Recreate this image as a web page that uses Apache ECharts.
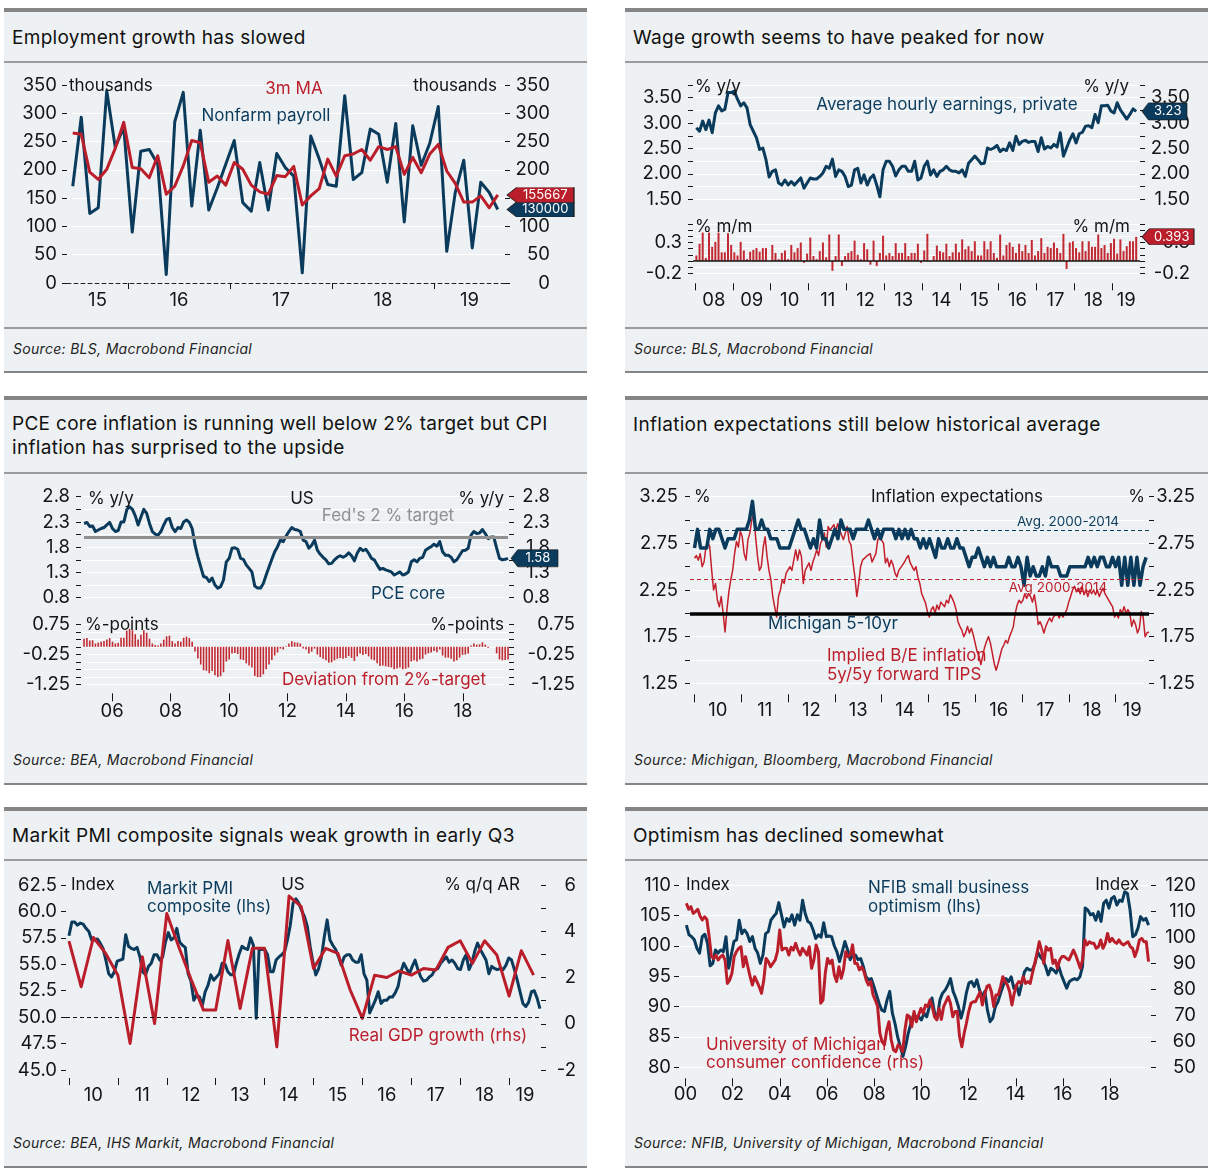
<!DOCTYPE html>
<html><head><meta charset="utf-8">
<script src="https://cdn.jsdelivr.net/npm/echarts@6.0.0/dist/echarts.min.js"></script>
<style>
body{margin:0;background:#fff;font-family:Inter,"Noto Sans",sans-serif;}
#wrap{position:relative;width:1218px;height:1176px;overflow:hidden;background:#fff;}
.panel{position:absolute;box-sizing:border-box;background:#eef1f3;border-top:4px solid #858585;border-bottom:2px solid #858585;width:583px;}
.sep{position:absolute;height:2px;background:#9c9c9c;width:583px;}
.title{position:absolute;font-size:19px;letter-spacing:0.3px;color:#111;line-height:24px;white-space:nowrap;}
.src{position:absolute;font-size:14px;letter-spacing:0.3px;font-style:italic;color:#222;line-height:18px;white-space:nowrap;}
#chart{position:absolute;left:0;top:0;width:1218px;height:1176px;}
</style></head>
<body><div id="wrap">
<div class="panel" style="left:4px;top:8px;height:365px"></div>
<div class="panel" style="left:625px;top:8px;height:365px"></div>
<div class="panel" style="left:4px;top:396px;height:389px"></div>
<div class="panel" style="left:625px;top:396px;height:389px"></div>
<div class="panel" style="left:4px;top:807px;height:361px"></div>
<div class="panel" style="left:625px;top:807px;height:361px"></div>
<div class="sep" style="left:4px;top:61px"></div>
<div class="sep" style="left:625px;top:61px"></div>
<div class="sep" style="left:4px;top:327px"></div>
<div class="sep" style="left:625px;top:327px"></div>
<div class="sep" style="left:4px;top:472px"></div>
<div class="sep" style="left:625px;top:472px"></div>
<div class="sep" style="left:4px;top:859px"></div>
<div class="sep" style="left:625px;top:859px"></div>
<div class="title" style="left:12px;top:26px">Employment growth has slowed</div>
<div class="title" style="left:633px;top:26px">Wage growth seems to have peaked for now</div>
<div class="title" style="left:12px;top:412px">PCE core inflation is running well below 2% target but CPI<br>inflation has surprised to the upside</div>
<div class="title" style="left:633px;top:413px">Inflation expectations still below historical average</div>
<div class="title" style="left:12px;top:824px">Markit PMI composite signals weak growth in early Q3</div>
<div class="title" style="left:633px;top:824px">Optimism has declined somewhat</div>
<div class="src" style="left:13px;top:340px">Source: BLS, Macrobond Financial</div>
<div class="src" style="left:634px;top:340px">Source: BLS, Macrobond Financial</div>
<div class="src" style="left:13px;top:751px">Source: BEA, Macrobond Financial</div>
<div class="src" style="left:634px;top:751px">Source: Michigan, Bloomberg, Macrobond Financial</div>
<div class="src" style="left:13px;top:1134px">Source: BEA, IHS Markit, Macrobond Financial</div>
<div class="src" style="left:634px;top:1134px">Source: NFIB, University of Michigan, Macrobond Financial</div>
<div id="chart"></div>
</div>
<script>
// ---------------- DATA ----------------
// Panel 1: Nonfarm payrolls (thousands), monthly Jun 2015 - Aug 2019
const nfpStart = [2015, 6];
const nonfarmPayroll = [171,293,123,133,340,240,275,90,233,236,210,15,285,337,136,270,129,168,210,252,142,127,213,129,229,204,189,18,260,219,174,171,331,183,195,272,263,178,282,108,278,208,247,312,56,160,217,62,178,160,130];
const nfp3mMA = [265,263,196,183,201,238,284,204,202,186,225,157,171,207,252,248,178,189,173,213,201,173,161,157,190,188,206,138,154,167,219,189,225,228,236,217,241,236,241,192,222,195,228,245,198,176,143,143,154,133,155.667];

// Panel 2: Average hourly earnings, monthly Jan 2008 - Aug 2019
const aheStart = [2008, 1];
const aheYoY = [2.91,2.84,3.04,2.87,3.06,2.81,3.20,3.34,3.24,3.27,3.60,3.60,3.63,3.47,3.34,3.40,3.30,2.97,2.84,2.71,
2.48,2.51,2.28,1.94,2.05,2.08,1.82,1.78,1.88,1.78,1.85,1.78,1.85,1.92,1.72,1.82,1.92,1.90,1.90,1.95,2.02,2.15,2.11,2.29,
1.95,2.08,2.05,1.95,1.75,1.78,2.08,2.11,1.82,1.98,1.78,1.92,1.98,1.78,1.55,2.08,2.25,2.25,2.15,1.96,2.08,2.15,2.15,2.05,
2.05,2.25,1.88,1.92,2.15,2.25,1.98,2.08,1.95,2.05,2.08,2.15,2.08,2.05,2.05,2.02,2.08,1.95,2.21,2.28,2.35,2.28,2.20,2.21,
2.51,2.48,2.51,2.56,2.44,2.49,2.46,2.61,2.46,2.74,2.58,2.64,2.66,2.62,2.64,2.64,2.44,2.71,2.49,2.54,2.51,2.58,2.53,
2.81,2.35,2.51,2.67,2.79,2.61,2.79,2.82,2.94,2.95,2.91,3.17,3.01,3.34,3.34,3.35,3.24,3.20,3.40,3.26,3.17,3.08,3.17,3.28,3.23];
const aheMoM = [0.09,0.28,0.46,0.05,0.46,0.23,0.31,0.46,0.14,0.14,0.45,0.26,0.14,0.09,0.31,0.17,0.03,0.15,0.18,0.21,
0.15,0.21,0.21,0.00,0.26,0.13,0.03,0.13,0.17,0.03,0.26,0.14,0.21,0.30,-0.03,0.12,0.38,0.08,0.03,0.16,
0.30,0.06,0.43,-0.16,0.08,0.43,-0.08,0.08,0.13,0.16,0.33,0.10,0.03,0.29,0.19,-0.06,0.33,-0.08,0.13,0.41,
0.09,0.13,0.08,0.29,0.13,0.13,0.29,0.08,0.13,0.13,0.28,-0.03,0.17,0.44,-0.01,0.08,0.25,0.16,0.14,0.28,
0.08,0.14,0.28,0.14,0.35,0.19,0.24,0.16,0.32,0.09,0.09,0.32,0.19,0.32,0.13,0.05,0.43,0.09,0.26,0.30,
0.23,0.13,0.28,0.16,0.26,0.13,0.34,0.09,0.16,0.37,0.13,0.23,0.21,0.30,0.21,0.13,0.44,-0.13,0.30,0.32,
0.21,0.14,0.32,0.16,0.32,0.23,0.23,0.43,0.21,0.26,0.13,0.29,0.36,0.12,0.35,0.16,0.24,0.32,0.32,0.393];

// Panel 3: PCE core (% y/y) readings Jan 2005 - Jul 2019, and deviation from 2% target
const pceFirst = 2005 + 0.5/12, pceLast = 2019 + 6.5/12;
const fedTarget = 2.0;
const pceCore = [2.27,2.29,2.21,2.22,2.11,2.14,2.17,2.19,2.24,2.29,2.17,2.11,2.13,2.30,2.30,2.54,2.60,2.55,2.42,2.24,
2.40,2.55,2.47,2.27,2.11,2.06,2.04,2.11,2.24,2.35,2.37,2.19,2.11,2.19,2.17,2.30,2.34,2.29,2.17,1.84,
1.61,1.41,1.22,1.20,1.12,1.19,1.05,0.99,1.02,1.15,1.51,1.58,1.78,1.79,1.76,1.58,1.56,1.45,1.38,1.31,
1.03,0.99,0.99,1.08,1.25,1.41,1.56,1.71,1.81,1.94,1.91,2.02,2.11,2.19,2.15,2.14,2.11,1.94,1.91,1.78,
1.84,1.94,1.74,1.66,1.60,1.55,1.47,1.48,1.55,1.60,1.63,1.60,1.63,1.69,1.63,1.53,1.68,1.78,1.73,1.76,
1.68,1.58,1.55,1.45,1.36,1.38,1.35,1.33,1.31,1.25,1.28,1.31,1.25,1.27,1.31,1.51,1.55,1.51,1.58,1.60,
1.74,1.78,1.81,1.86,1.82,1.91,1.71,1.64,1.64,1.60,1.51,1.55,1.64,1.73,1.74,1.78,2.04,2.11,2.07,2.08,
2.15,2.07,1.97,2.00,2.00,1.78,1.58,1.55,1.56,1.58];
const pceDeviation = [0.27,0.29,0.21,0.22,0.11,0.14,0.17,0.19,0.24,0.29,0.17,0.11,0.13,0.30,0.30,0.54,0.60,0.55,0.42,0.24,
0.40,0.55,0.47,0.27,0.11,0.06,0.04,0.11,0.24,0.35,0.37,0.19,0.11,0.19,0.17,0.30,0.34,0.29,0.17,-0.16,
-0.39,-0.59,-0.78,-0.80,-0.88,-0.81,-0.95,-1.01,-0.98,-0.85,-0.49,-0.42,-0.22,-0.21,-0.24,-0.42,-0.44,-0.55,-0.62,-0.69,
-0.97,-1.01,-1.01,-0.92,-0.75,-0.59,-0.44,-0.29,-0.19,-0.06,-0.09,0.02,0.11,0.19,0.15,0.14,0.11,-0.06,-0.09,-0.22,
-0.16,-0.06,-0.26,-0.34,-0.40,-0.45,-0.53,-0.52,-0.45,-0.40,-0.37,-0.40,-0.37,-0.31,-0.37,-0.47,-0.32,-0.22,-0.27,-0.24,
-0.32,-0.42,-0.45,-0.55,-0.64,-0.62,-0.65,-0.67,-0.69,-0.75,-0.72,-0.69,-0.75,-0.73,-0.69,-0.49,-0.45,-0.49,-0.42,-0.40,
-0.26,-0.22,-0.19,-0.14,-0.18,-0.09,-0.29,-0.36,-0.36,-0.40,-0.49,-0.45,-0.36,-0.27,-0.26,-0.22,0.04,0.11,0.07,0.08,
0.15,0.07,-0.03,0.00,0.00,-0.22,-0.42,-0.45,-0.44,-0.42];

// Panel 4: inflation expectations, readings Jan 2010 - Sep 2019
const michFirst = 2010.0, michLast = 2019.65;
const michigan5to10 = [2.7,2.9,2.7,2.7,2.7,2.9,2.8,2.9,2.9,2.8,2.7,2.8,2.8,2.8,2.9,2.9,2.9,2.9,3.0,3.2,
2.9,2.9,3.0,2.9,2.9,2.8,2.8,2.8,2.7,2.7,2.7,2.7,2.8,2.9,3.0,2.9,2.9,2.8,2.7,2.8,
2.7,3.0,2.8,2.8,2.7,2.8,2.9,2.8,3.0,2.9,2.9,2.9,2.8,2.9,2.9,2.9,2.9,3.0,2.9,2.8,
2.9,2.8,2.9,2.9,2.9,2.9,2.8,2.9,2.8,2.9,2.8,2.9,2.8,2.8,2.7,2.8,2.7,2.8,2.7,2.6,
2.8,2.7,2.7,2.8,2.7,2.7,2.8,2.7,2.7,2.6,2.5,2.6,2.6,2.7,2.6,2.5,2.6,2.5,2.6,2.5,
2.5,2.5,2.5,2.6,2.5,2.5,2.6,2.5,2.3,2.6,2.4,2.5,2.4,2.4,2.5,2.4,2.6,2.5,2.5,2.5,
2.4,2.4,2.4,2.5,2.5,2.5,2.5,2.5,2.5,2.6,2.5,2.6,2.5,2.6,2.6,2.5,2.5,2.6,2.5,2.6,
2.3,2.6,2.3,2.6,2.3,2.6,2.3,2.5,2.6];
const beFirst = 2010.0, beLast = 2019.71;
const breakeven5y5y = [2.59,2.62,2.57,2.64,2.50,2.55,2.71,2.77,2.71,2.46,2.25,2.32,2.14,2.07,2.18,2.00,1.80,2.04,2.23,2.36,
2.46,2.64,2.77,2.71,2.88,2.82,2.64,2.57,2.79,2.86,3.00,3.07,2.82,2.61,2.46,2.50,2.71,2.82,2.61,2.46,
2.36,2.18,2.07,1.96,2.18,2.25,2.36,2.32,2.43,2.45,2.50,2.46,2.57,2.68,2.57,2.68,2.61,2.32,2.46,2.50,
2.54,2.46,2.55,2.61,2.68,2.62,2.75,2.79,2.86,2.71,2.93,2.89,2.91,2.95,2.88,2.96,2.89,2.91,2.79,2.86,
2.93,2.77,2.73,2.55,2.39,2.18,2.32,2.50,2.57,2.59,2.61,2.59,2.64,2.55,2.57,2.64,2.79,2.82,2.84,2.75,
2.54,2.59,2.50,2.57,2.52,2.43,2.39,2.46,2.48,2.52,2.55,2.59,2.62,2.54,2.55,2.46,2.50,2.39,2.32,2.21,
2.16,2.11,2.02,1.96,2.04,2.07,2.00,2.09,2.04,2.12,2.14,2.07,2.14,2.11,2.20,2.16,2.11,2.04,1.91,1.86,
1.82,1.75,1.79,1.86,1.79,1.84,1.77,1.68,1.59,1.54,1.45,1.55,1.64,1.70,1.75,1.68,1.57,1.46,1.39,1.46,
1.54,1.62,1.66,1.71,1.68,1.75,1.80,1.86,2.00,2.09,2.14,2.11,2.14,2.21,2.16,2.21,2.18,2.12,2.20,2.07,
1.88,1.91,1.86,1.79,1.86,1.91,1.95,1.91,1.96,1.95,2.00,1.95,2.00,1.96,1.95,2.04,2.12,2.18,2.25,2.29,
2.23,2.27,2.21,2.29,2.20,2.25,2.18,2.25,2.21,2.25,2.20,2.25,2.18,2.23,2.27,2.21,2.20,2.14,2.16,2.07,
1.96,2.00,1.95,2.04,2.00,2.07,2.00,2.04,2.00,1.86,1.93,1.88,1.79,1.84,2.02,1.96,1.75,1.79,1.80];
const michAvg = 2.89, beAvg = 2.37, refLevel = 2.0;

// Panel 5: Markit PMI composite readings Jan 2010 - Aug 2019, real GDP q/q AR from Q4 2009
const pmiFirst = 2010.0, pmiLast = 2019.63;
const markitPMI = [57.7,59.0,59.0,58.7,58.9,58.8,58.4,58.1,57.3,57.3,57.4,57.0,56.5,55.4,54.1,53.8,54.3,55.3,55.4,55.5,
57.8,56.7,56.5,56.4,56.6,55.7,54.3,54.0,54.8,55.1,55.9,55.9,55.4,55.7,57.1,58.0,57.3,57.5,58.4,57.1,
56.8,56.6,54.1,53.4,51.6,52.1,51.9,51.1,52.4,53.0,54.0,53.5,53.8,54.1,55.1,55.0,54.3,54.0,54.0,55.1,
56.0,56.7,56.5,56.4,57.5,56.8,49.9,56.4,56.4,56.4,55.9,54.3,54.3,55.4,55.7,55.9,56.2,57.3,58.7,60.8,
61.2,60.8,60.1,59.5,58.6,56.7,55.2,54.0,54.6,55.7,57.6,59.2,57.3,56.8,56.4,55.7,54.9,55.7,55.9,55.9,
55.4,55.2,55.2,55.9,54.1,53.5,50.4,51.0,51.6,52.4,51.3,51.6,51.6,51.9,51.9,52.3,52.9,54.3,55.1,54.6,
54.1,54.8,55.4,54.5,53.8,53.4,53.5,53.8,54.0,54.5,54.6,55.1,55.4,55.7,55.2,55.4,55.1,54.6,54.5,55.4,
55.9,54.5,55.1,56.2,57.0,56.4,55.9,55.4,54.1,54.8,54.6,54.5,54.6,54.5,54.9,55.6,55.4,54.5,53.5,52.4,
51.3,51.0,51.4,52.4,52.5,51.8,50.8];
const gdpFirstQuarter = [2009, 4];
const realGDP = [3.57,1.60,3.73,3.04,2.10,-0.85,2.90,0.01,4.77,3.3,1.9,0.59,0.59,3.6,0.66,3.26,3.26,-1.0,5.52,5.06,
2.39,3.26,3.04,1.46,0.23,2.10,2.0,2.28,2.10,2.39,2.32,3.30,3.59,2.61,3.59,2.97,1.20,3.16,2.10];

// Panel 6: NFIB small business optimism and UMich consumer sentiment, Jan 2000 - Aug 2019
const optFirst = 2000 + 0.5/12, optLast = 2019 + 7.5/12;
const nfibOptimism = [103.4,101.8,101.5,101.0,99.6,98.8,101.5,101.9,100.4,96.7,97.1,99.3,98.8,99.3,99.0,101.5,96.3,98.5,100.7,101.0,
104.2,102.0,102.6,102.0,100.7,101.5,99.6,98.8,97.1,98.5,102.0,102.3,104.2,104.8,105.3,107.1,105.1,103.1,104.5,104.0,
105.1,103.4,105.1,104.2,107.5,105.3,104.0,103.7,102.6,101.2,101.8,101.4,103.8,101.5,101.6,101.5,100.0,99.0,97.4,99.0,
100.7,99.4,97.7,98.5,98.5,97.7,97.9,96.6,94.9,94.4,94.6,93.3,91.9,90.5,89.4,89.2,91.1,92.5,88.9,87.2,
85.0,83.4,81.8,83.4,85.6,87.2,88.6,88.3,88.3,87.8,88.9,88.3,90.0,91.4,88.9,88.1,91.1,92.2,92.7,93.5,
94.6,92.5,91.4,90.0,88.1,89.7,92.2,93.9,94.1,93.3,94.4,92.7,91.6,92.5,89.4,87.5,88.1,90.0,90.8,92.2,
93.5,94.6,94.1,94.9,93.0,93.5,91.9,93.8,95.7,96.3,96.0,96.0,97.1,99.0,98.2,97.7,96.6,95.2,96.3,96.0,
95.5,96.6,95.2,94.1,93.0,94.1,94.4,94.6,94.4,94.9,96.6,106.2,105.9,105.1,105.3,104.2,105.6,104.0,107.0,107.5,
106.2,107.8,108.1,106.7,107.5,107.3,108.9,108.6,105.9,101.5,101.8,102.9,104.8,104.2,104.5,103.4];
const umichSentiment = [113.0,110.7,111.7,109.1,109.8,110.7,108.1,106.6,107.8,106.8,100.2,92.5,91.8,93.1,91.2,92.5,93.1,91.2,82.2,83.5,
86.1,92.5,94.4,95.7,96.3,88.6,92.5,88.6,84.8,81.6,84.8,82.9,80.9,78.4,83.5,91.8,90.6,88.6,89.9,91.2,
94.4,102.7,95.0,95.7,95.7,93.1,96.1,95.0,97.6,95.0,93.1,95.7,94.4,93.1,96.3,88.0,91.2,97.0,94.4,74.6,
75.8,86.1,91.8,89.9,91.2,85.4,82.9,88.6,84.2,87.4,94.4,92.5,93.1,97.0,89.9,89.9,87.4,88.6,86.7,83.5,
81.6,82.9,77.8,75.8,73.3,63.0,59.8,58.6,64.3,67.5,60.5,56.6,56.0,58.6,57.9,56.0,64.3,70.1,69.4,65.6,
71.4,67.5,70.1,72.6,70.7,73.9,73.3,75.8,73.3,69.4,68.2,72.6,68.4,73.3,75.2,77.1,74.6,69.4,71.4,71.4,
61.8,57.9,63.0,66.9,71.4,74.6,75.2,75.2,77.1,79.0,73.9,77.8,81.0,81.6,79.0,73.3,77.8,77.8,81.0,84.8,
82.9,81.6,79.0,73.9,78.4,81.6,82.9,82.2,84.8,82.2,82.9,82.2,86.1,89.9,93.8,98.2,95.0,89.9,96.3,95.0,
95.7,89.9,91.2,88.0,91.2,92.5,92.5,91.8,91.2,93.1,95.0,93.1,90.6,88.0,91.2,98.9,97.0,98.2,97.6,97.6,
95.7,96.3,98.9,95.7,97.6,101.4,98.2,99.5,98.2,97.6,98.9,97.6,97.0,97.6,98.2,96.3,95.7,92.5,95.0,98.9,
99.5,98.2,98.2,90.6];

// ---------------- HELPERS ----------------
const FONT = 'Inter';
const INK = '#141414';
const BLUE = '#0b3b5c';
const RED = '#bb1e2b';
const GREY = '#8f8f8f';
const LABEL_SIZE = 18.5;
const NOTE_SIZE = 17;

function monthly(start, arr){ return arr.map((v,i)=>[start[0] + (start[1]-1+i+0.5)/12, v]); }
function spread(t0, t1, arr){ const n = arr.length; return arr.map((v,i)=>[t0 + (t1-t0)*i/(n-1), v]); }
function quarterEnd(start, arr){ return arr.map((v,i)=>[start[0] + (start[1]+i)/4, v]); }
const yy = v => String(Math.floor(v + 1e-6) % 100).padStart(2,'0');

function xYears(grid, min, max, cfg){
  const ticks = [], labels = [];
  const step = cfg.step || 1;
  for (let y = Math.ceil(min); y <= max; y++) if (y % step === 0) ticks.push(y);
  if (cfg.atTicks) labels.push(...ticks);
  else for (let y = Math.floor(min); y < max; y++){
    const a = Math.max(min, y), b = Math.min(max, y+1);
    if (b - a > 0.3) labels.push((a+b)/2);
  }
  return {type:'value', gridIndex:grid, min, max, show: cfg.show !== false, offset: cfg.offset || 0,
    axisLine:{show: !!cfg.line, onZero:false, lineStyle: cfg.line || {}},
    axisTick:{show:true, customValues:ticks, length: cfg.tickLen || 7, lineStyle:{color:INK, width:1}},
    axisLabel:{show:true, customValues:labels, margin: cfg.margin || 8, color:INK, fontSize:LABEL_SIZE, fontFamily:FONT, formatter: yy},
    splitLine:{show:false}};
}
function hiddenX(grid, min, max){ return {type:'value', gridIndex:grid, min, max, show:false, axisLine:{onZero:false}, splitLine:{show:false}}; }

function yAx(grid, pos, min, max, interval, every, dec, margin, gridLines){
  return {type:'value', gridIndex:grid, position:pos, min, max, interval,
    axisLine:{show:false},
    axisTick:{show:true, length:5, lineStyle:{color:INK, width:1}},
    axisLabel:{margin, align:'right', color:INK, fontSize:LABEL_SIZE, fontFamily:FONT,
      formatter: v => { const k = Math.round((v - min)/interval); return (k % every === 0) ? Number(v).toFixed(dec) : ''; }},
    splitLine:{show: !!gridLines, lineStyle:{color:'#ffffff', width:1}}};
}

const FLAG = 'path://M0,10L8,0L56,0L56,20L8,20Z';
function flag(x, v, color, text, w, h){
  return {silent:true, animation:false, symbol:FLAG, symbolKeepAspect:false, symbolSize:[w,h], symbolOffset:[w/2 + 2, 0],
    itemStyle:{color, borderColor:'#1a1a1a', borderWidth:0.6},
    label:{show:true, position:'inside', color:'#fff', fontSize:13, fontFamily:FONT, offset:[w*4/56, 0], formatter: text},
    data:[{coord:[x, v], value:v}]};
}
function line(xi, yi, data, color, width, extra){
  return Object.assign({type:'line', xAxisIndex:xi, yAxisIndex:yi, data, symbol:'none', showSymbol:false,
    lineStyle:{color, width, join:'round'}, itemStyle:{color}, animation:false, silent:true, clip:false}, extra || {});
}
function T(x, y, text, color, align, size){
  return {type:'text', x, y, silent:true, z:100,
    style:{text, fill: color || INK, fontSize: size || NOTE_SIZE, fontFamily: FONT, align: align || 'left', verticalAlign:'middle',
      textAlign: align || 'left', textVerticalAlign:'middle'}};
}

// ---------------- AXIS RANGES ----------------
const p1x = [2015.402, 2019.696], p2x = [2007.953, 2019.725], p3x = [2004.937, 2019.575];
const p4x = [2009.904, 2019.712], p5x = [2009.939, 2019.652], p6x = [1999.729, 2019.729];

const grids = [
  {left:67, top:85, width:438, height:198},
  {left:693, top:85, width:447, height:114.3},
  {left:693, top:224, width:447, height:49.3},
  {left:81, top:496.7, width:428, height:101},
  {left:81, top:624.3, width:428, height:60},
  {left:690, top:496.7, width:459, height:186.6},
  {left:66, top:885, width:475, height:185},
  {left:679, top:885, width:472, height:182.3}
].map(g => Object.assign({containLabel:false, outerBoundsMode:'none'}, g));

const xAxes = [
  xYears(0, p1x[0], p1x[1], {tickLen:6, margin:8, line:{color:'#222', width:1, type:[4,3]}}),
  hiddenX(1, p2x[0], p2x[1]),
  xYears(2, p2x[0], p2x[1], {offset:10, tickLen:7, margin:8}),
  hiddenX(3, p3x[0], p3x[1]),
  xYears(4, p3x[0], p3x[1], {offset:9, tickLen:8, margin:9, step:2, atTicks:true}),
  xYears(5, p4x[0], p4x[1], {offset:11, tickLen:8, margin:7}),
  xYears(6, p5x[0], p5x[1], {offset:8, tickLen:7, margin:8}),
  xYears(7, p6x[0], p6x[1], {offset:11, tickLen:8, margin:7, step:2, atTicks:true})
];

const yAxes = [
  yAx(0,'left',0,350,50,1,0,10,true),     yAx(0,'right',0,350,50,1,0,45,false),
  yAx(1,'left',1.5,3.75,0.25,2,2,11,true), yAx(1,'right',1.5,3.75,0.25,2,2,50,false),
  yAx(2,'left',-0.2,0.6,0.1,5,1,11,true),  yAx(2,'right',-0.2,0.6,0.1,5,1,50,false),
  yAx(3,'left',0.8,2.8,0.25,2,1,11,true),  yAx(3,'right',0.8,2.8,0.25,2,1,41,false),
  yAx(4,'left',-1.25,0.75,0.25,4,2,11,true), yAx(4,'right',-1.25,0.75,0.25,4,2,66,false),
  yAx(5,'left',1.25,3.25,0.25,2,2,12,true), yAx(5,'right',1.25,3.25,0.25,2,2,46,false),
  yAx(6,'left',45,62.5,2.5,1,1,9,false),   yAx(6,'right',-2,6,1,2,0,35,false),
  yAx(7,'left',80,110,5,1,0,8,true),       yAx(7,'right',50,120,10,1,0,45,false)
];

const nfpData = monthly(nfpStart, nonfarmPayroll);
const maData = monthly(nfpStart, nfp3mMA);
const aheData = monthly(aheStart, aheYoY);
const momData = monthly(aheStart, aheMoM);
const pceData = spread(pceFirst, pceLast, pceCore);
const devData = spread(pceFirst, pceLast, pceDeviation);
const michData = spread(michFirst, michLast, michigan5to10);
const beData = spread(beFirst, beLast, breakeven5y5y);
const pmiData = spread(pmiFirst, pmiLast, markitPMI);
const gdpData = quarterEnd(gdpFirstQuarter, realGDP);
const nfibData = spread(optFirst, optLast, nfibOptimism);
const umichData = spread(optFirst, optLast, umichSentiment);
const last = a => a[a.length-1][1];
const edge = r => r[1] - 1e-6;

const series = [
  // Panel 1
  line(0,0,nfpData,BLUE,3,{markPoint: flag(edge(p1x), last(nfpData), BLUE, String(Math.round(last(nfpData)*1000)), 67, 15)}),
  line(0,0,maData,RED,3,{markPoint: flag(edge(p1x), last(maData), RED, String(Math.round(last(maData)*1000)), 67, 15)}),
  // Panel 2
  line(1,2,aheData,BLUE,3,{markPoint: flag(edge(p2x), last(aheData), BLUE, last(aheData).toFixed(2), 45, 17)}),
  {type:'bar', xAxisIndex:2, yAxisIndex:4, data:momData, barWidth:2, itemStyle:{color:'#c22a33'}, animation:false, silent:true, clip:false,
    markLine:{silent:true, symbol:'none', animation:false, label:{show:false}, lineStyle:{color:'#111', width:1.5, type:'solid'}, data:[{yAxis:0}]},
    markPoint: flag(edge(p2x), last(momData), RED, last(momData).toFixed(3), 52, 16)},
  // Panel 3
  line(3,6,pceData,BLUE,3,{
    markLine:{silent:true, symbol:'none', animation:false, label:{show:false}, lineStyle:{color:GREY, width:3, type:'solid'},
      data:[[{coord:[pceFirst, fedTarget]},{coord:[pceLast, fedTarget]}]]},
    markPoint: flag(edge(p3x), last(pceData), BLUE, last(pceData).toFixed(2), 47, 17), z:3}),
  {type:'bar', xAxisIndex:4, yAxisIndex:8, data:devData, barWidth:1.6, itemStyle:{color:'#c22a33'}, animation:false, silent:true},
  // Panel 4
  line(5,10,beData,'#c41f2c',1.5,{
    markLine:{silent:true, symbol:'none', animation:false, label:{show:false},
      data:[{yAxis:michAvg, lineStyle:{color:BLUE, width:1, type:[4,3]}},
            {yAxis:beAvg, lineStyle:{color:'#c8202c', width:1, type:[4,3]}}]}}),
  line(5,10,michData,BLUE,3.5,{
    markLine:{silent:true, symbol:'none', animation:false, label:{show:false},
      data:[{yAxis:refLevel, lineStyle:{color:'#000', width:3.5, type:'solid'}}]}}),
  // Panel 5
  line(6,12,pmiData,BLUE,3,{
    markLine:{silent:true, symbol:'none', animation:false, label:{show:false}, lineStyle:{color:'#111', width:1, type:[4,3]}, data:[{yAxis:50}]}}),
  line(6,13,gdpData,RED,3),
  // Panel 6
  line(7,14,nfibData,BLUE,3),
  line(7,15,umichData,RED,3)
];

const texts = [
  T(69,86,'thousands'), T(497,86,'thousands',INK,'right'), T(294,89,'3m MA',RED,'center'), T(266,116,'Nonfarm payroll',BLUE,'center'),
  T(695,87,'% y/y'), T(1129,87,'% y/y',INK,'right'), T(947,105,'Average hourly earnings, private',BLUE,'center'),
  T(695,227,'% m/m'), T(1130,227,'% m/m',INK,'right'),
  T(88,499,'% y/y'), T(302,499,'US',INK,'center'), T(504,499,'% y/y',INK,'right'), T(388,516,"Fed's 2 % target",GREY,'center'),
  T(408,594,'PCE core',BLUE,'center'), T(85,625,'%-points'), T(504,625,'%-points',INK,'right'),
  T(384,680,'Deviation from 2%-target',RED,'center'),
  T(694,497,'%'), T(957,497,'Inflation expectations',INK,'center'), T(1145,497,'%',INK,'right'),
  T(1068,522,'Avg. 2000-2014',BLUE,'center',13.5), T(1058,588,'Avg 2000-2014',RED,'center',13.5),
  T(833,624,'Michigan 5-10yr',BLUE,'center'), T(827,656,'Implied B/E inflation',RED), T(827,675,'5y/5y forward TIPS',RED),
  T(71,885,'Index'), T(147,889,'Markit PMI',BLUE), T(147,907,'composite (lhs)',BLUE), T(293,885,'US',INK,'center'),
  T(520,885,'% q/q AR',INK,'right'), T(438,1036,'Real GDP growth (rhs)',RED,'center'),
  T(686,885,'Index'), T(868,888,'NFIB small business',BLUE), T(868,907,'optimism (lhs)',BLUE), T(1139,885,'Index',INK,'right'),
  T(706,1045,'University of Michigan',RED), T(706,1063,'consumer confidence (rhs)',RED)
];

const chart = echarts.init(document.getElementById('chart'), null, {renderer:'canvas'});
chart.setOption({
  animation:false,
  backgroundColor:'transparent',
  textStyle:{fontFamily:FONT},
  grid: grids, xAxis: xAxes, yAxis: yAxes, series,
  graphic:{elements: texts}
});
</script>
</body></html>
